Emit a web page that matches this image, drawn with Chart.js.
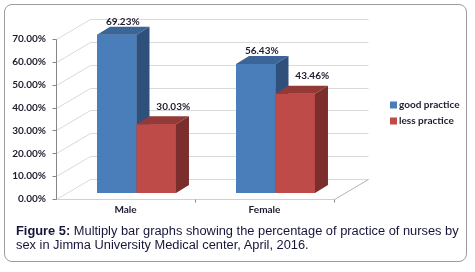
<!DOCTYPE html>
<html>
<head>
<meta charset="utf-8">
<script src="https://cdn.jsdelivr.net/npm/chart.js@4"></script>
<style>
  html, body { margin: 0; padding: 0; background: #fff; }
  #wrap { position: relative; width: 475px; height: 272px; overflow: hidden; }
  #frame {
    position: absolute; left: 4px; top: 4px; width: 461px; height: 256px;
    border: 1px solid #9c9c9c; border-radius: 8px;
  }
  #chart { position: absolute; left: 0; top: 0; }
  #caption {
    position: absolute; left: 16px; top: 224px; width: 452px;
    font-family: "Liberation Sans", Arial, sans-serif; font-size: 12.85px;
    line-height: 13.6px; color: #16163a;
  }
</style>
</head>
<body>
<div id="wrap">
  <div id="frame"></div>
  <canvas id="chart" width="475" height="272"></canvas>
  <div id="caption"><b>Figure 5:</b> Multiply bar graphs showing the percentage of practice of nurses by sex in Jimma University Medical center, April, 2016.</div>
</div>
<script>
// 데이터
const categories = ["Male", "Female"];
const seriesNames = ["good practice", "less practice"];
const goodPractice = [69.23, 56.43];
const lessPractice = [30.03, 43.46];
const yMax = 70;
const yStep = 10;

// 색상 (앞면, 윗면, 옆면)
const frontColors = ["#4a7ebb", "#be4b48"];
const topColors = ["#3b6597", "#933a37"];
const sideColors = ["#30507c", "#7b2e2c"];

// 3D 느낌을 위한 오프셋
const depth = { x: 13, y: -8 };
const front = { x: -11, y: 6 };
const back = { x: 23, y: -14 };
const labelShift = [{ x: 6, y: -13 }, { x: 17, y: -18 }];

const textFont = "Lato, 'Liberation Sans', sans-serif";
const textColor = "#1c1c2e";

const px = (v) => Math.round(v) + 0.5;
const line = (ctx, x1, y1, x2, y2) => {
  ctx.beginPath();
  ctx.moveTo(px(x1), px(y1));
  ctx.lineTo(px(x2), px(y2));
  ctx.stroke();
};

// 뒷벽 격자, 바닥, 축선
const wallPlugin = {
  id: "wall",
  beforeDatasetsDraw(chart) {
    const { ctx, chartArea: a, scales } = chart;
    const x = scales.x, y = scales.y;
    const base = y.getPixelForValue(0);
    ctx.save();
    ctx.lineWidth = 1;
    ctx.strokeStyle = "#d9d9d9";
    y.ticks.forEach((t) => {
      const py = y.getPixelForValue(t.value);
      line(ctx, a.left + front.x, py + front.y, a.left + back.x, py + back.y);
      line(ctx, a.left + back.x, py + back.y, a.right + back.x, py + back.y);
    });
    ctx.strokeStyle = "#d0d0d0";
    line(ctx, a.left + front.x, base + front.y, a.right + front.x, base + front.y);
    ctx.strokeStyle = "#b4b4b4";
    line(ctx, a.right + front.x, base + front.y, a.right + back.x, base + back.y);
    // y축
    ctx.strokeStyle = "#868686";
    line(ctx, a.left + front.x, y.getPixelForValue(yMax) + front.y, a.left + front.x, base + front.y);
    y.ticks.forEach((t) => {
      const py = y.getPixelForValue(t.value) + front.y;
      line(ctx, a.left + front.x - 4, py, a.left + front.x, py);
    });
    // x축 눈금
    for (let i = 1; i <= categories.length; i++) {
      const bx = x.getPixelForValue(i - 0.5) + front.x;
      line(ctx, bx, base + front.y, bx, base + front.y + 3);
    }
    ctx.restore();
  },
  // 막대를 순서대로 다시 그리고 윗면, 옆면 추가
  afterDatasetsDraw(chart) {
    const { ctx } = chart;
    ctx.save();
    chart.data.datasets.forEach((ds, i) => {
      chart.getDatasetMeta(i).data.forEach((bar) => {
        bar.draw(ctx);
        const { x, y, base, width } = bar.getProps(["x", "y", "base", "width"], true);
        const l = x - width / 2, r = x + width / 2;
        ctx.fillStyle = topColors[i];
        ctx.beginPath();
        ctx.moveTo(l, y);
        ctx.lineTo(l + depth.x, y + depth.y);
        ctx.lineTo(r + depth.x, y + depth.y);
        ctx.lineTo(r, y);
        ctx.closePath();
        ctx.fill();
        ctx.fillStyle = sideColors[i];
        ctx.beginPath();
        ctx.moveTo(r, y);
        ctx.lineTo(r + depth.x, y + depth.y);
        ctx.lineTo(r + depth.x, base + depth.y);
        ctx.lineTo(r, base);
        ctx.closePath();
        ctx.fill();
      });
    });
    ctx.restore();
  },
  afterDraw(chart) {
    const { ctx, chartArea: a } = chart;
    ctx.save();
    ctx.font = "bold 10px " + textFont;
    ctx.fillStyle = textColor;
    ctx.textAlign = "center";
    ctx.textBaseline = "middle";
    // 값 라벨
    chart.data.datasets.forEach((ds, i) => {
      chart.getDatasetMeta(i).data.forEach((bar, j) => {
        ctx.fillText(ds.data[j].toFixed(2) + "%", bar.x + labelShift[i].x, bar.y + labelShift[i].y);
      });
    });
    // 범례
    const mid = (a.top + a.bottom) / 2;
    ctx.textAlign = "left";
    ctx.font = "bold 10px " + textFont;
    chart.data.datasets.forEach((ds, i) => {
      const cy = mid - 8 + i * 16;
      ctx.fillStyle = frontColors[i];
      ctx.fillRect(a.right + 45, cy - 3.5, 7, 7);
      ctx.fillStyle = textColor;
      ctx.fillText(ds.label, a.right + 54, cy);
    });
    ctx.restore();
  },
};

new Chart(document.getElementById("chart"), {
  type: "bar",
  data: {
    labels: categories,
    datasets: [
      { label: seriesNames[0], data: goodPractice, backgroundColor: frontColors[0] },
      { label: seriesNames[1], data: lessPractice, backgroundColor: frontColors[1] },
    ],
  },
  options: {
    responsive: false,
    animation: false,
    devicePixelRatio: 1,
    layout: { padding: { top: 33, right: 130, left: 0, bottom: 0 } },
    datasets: { bar: { categoryPercentage: 0.568, barPercentage: 1 } },
    plugins: { legend: { display: false }, tooltip: { enabled: false } },
    scales: {
      x: {
        grid: { display: false, drawTicks: false },
        border: { display: false },
        ticks: {
          labelOffset: front.x,
          padding: 11,
          color: textColor,
          font: { family: textFont, size: 10, weight: "bold" },
        },
        afterFit: (scale) => { scale.height = 79; },
      },
      y: {
        min: 0,
        max: yMax,
        grid: { display: false, drawTicks: false },
        border: { display: false },
        ticks: {
          stepSize: yStep,
          labelOffset: front.y,
          padding: 21,
          color: textColor,
          font: { family: textFont, size: 10, weight: "bold" },
          callback: (v) => v.toFixed(2) + "%",
        },
        afterFit: (scale) => { scale.width = 67; },
      },
    },
  },
  plugins: [wallPlugin],
});
</script>
</body>
</html>
